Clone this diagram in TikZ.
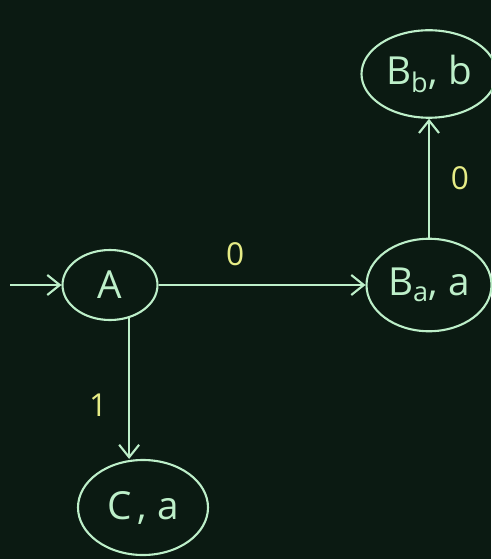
\documentclass[tikz,border=0pt]{standalone}
\usepackage{fontspec}
\setsansfont{Open Sans}
\usepackage{tikz}
\usetikzlibrary{shapes.geometric, arrows.meta, positioning, calc}
\definecolor{chalkbg}{HTML}{0B1A12}
\definecolor{chalkgreen}{HTML}{BDEFC9}
\definecolor{chalkyellow}{HTML}{E6EC86}

\begin{document}
\begin{tikzpicture}[
  state/.style={ellipse, draw=chalkgreen, line width=1.2pt, text=chalkgreen,
    inner sep=0pt, font=\sffamily\fontsize{22}{26}\selectfont},
  arrow/.style={-{Straight Barb[length=2.5mm, width=4mm]}, line width=1.2pt, draw=chalkgreen},
  lbl/.style={text=chalkyellow, font=\sffamily\fontsize{18}{21}\selectfont}]
  \fill[chalkbg] (0,0) rectangle (9.82,-11.18);
  \useasboundingbox (0,0) rectangle (9.82,-11.18);
  % states
  \node[state, minimum width=1.9cm, minimum height=1.4cm] (A) at (2.2,-5.7) {A};
  \node[state, minimum width=2.5cm, minimum height=1.85cm] (Ba) at (8.58,-5.7) {B\textsubscript{a}, a};
  \node[state, minimum width=2.7cm, minimum height=1.75cm] (Bb) at (8.58,-1.48) {B\textsubscript{b}, b};
  \node[state, minimum width=2.6cm, minimum height=1.9cm] (C) at (2.86,-10.15) {C\,, a};
  \coordinate (start) at (0.2,-5.7);
  % transitions
  \draw[arrow] (start) -- (A);
  \draw[arrow] (A) -- node[pos=0.37, above=0.25cm, lbl] {0} (Ba);
  \draw[arrow] (Ba) -- node[right=0.3cm, lbl] {0} (Bb);
  \draw[arrow] (A.-60) -- node[pos=0.62, left=0.3cm, lbl] {1} (A.-60 |- C.north);
\end{tikzpicture}
\end{document}
